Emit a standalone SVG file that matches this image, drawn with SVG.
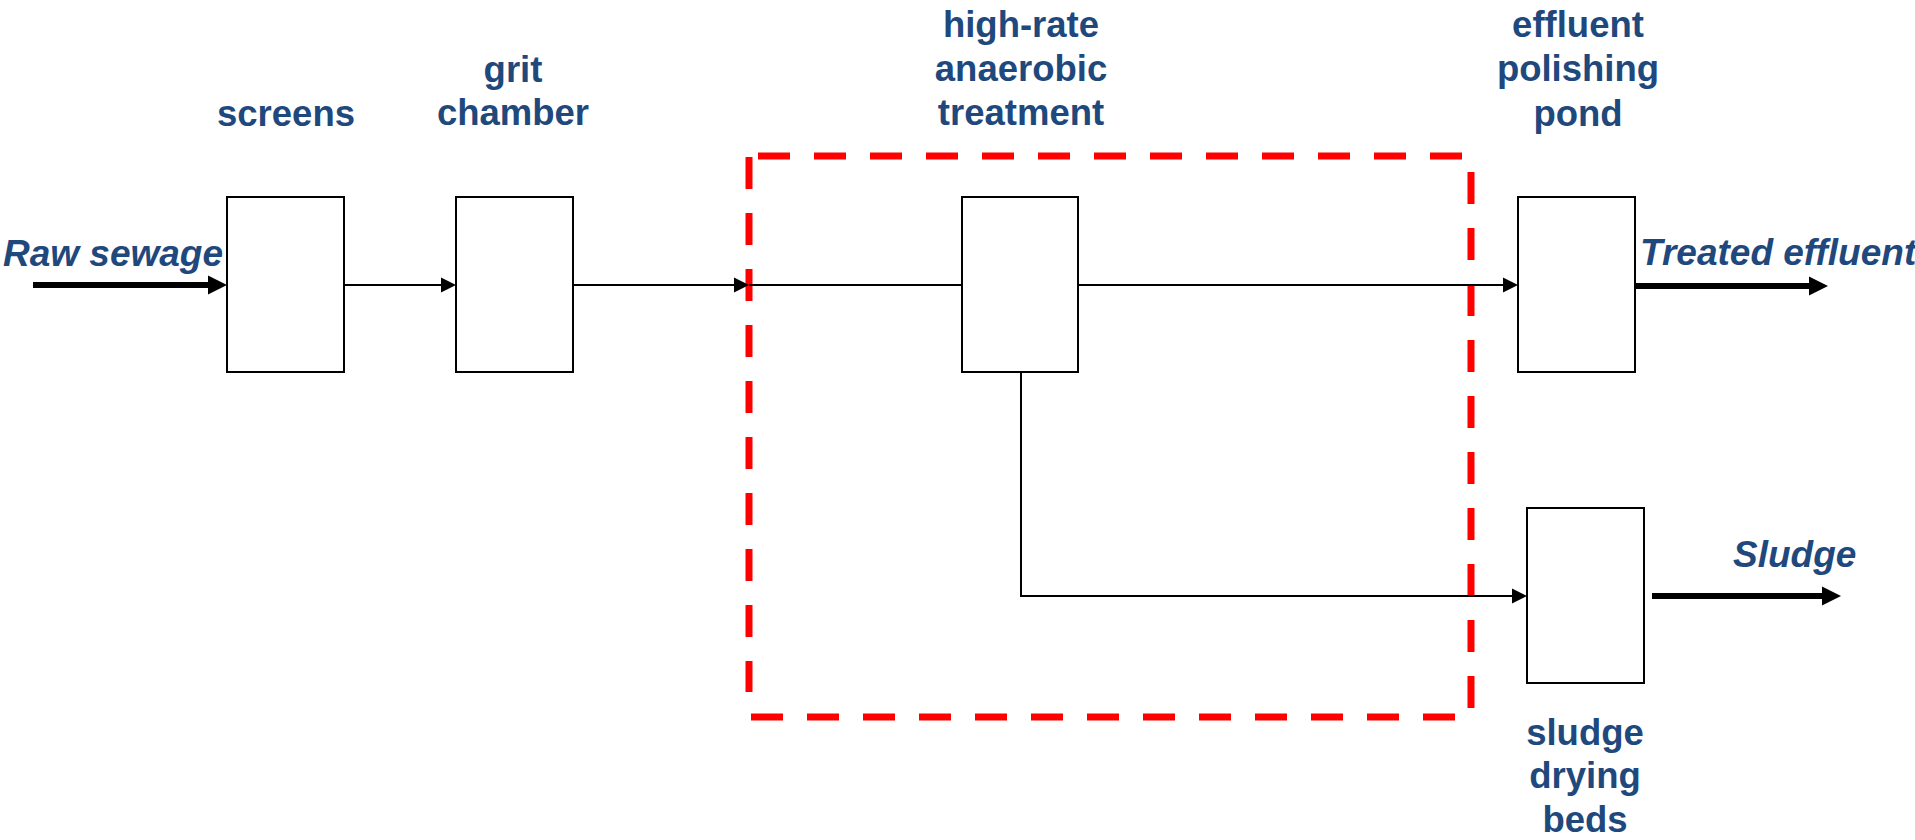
<svg xmlns="http://www.w3.org/2000/svg" width="1915" height="840" viewBox="0 0 1915 840">
<style>
.box{fill:#fff;stroke:#000;stroke-width:2}
.t{font-family:"Liberation Sans",Arial,sans-serif;font-weight:bold;font-size:36.5px;fill:#1F497D;text-anchor:middle}
.it{font-family:"Liberation Sans",Arial,sans-serif;font-weight:bold;font-style:italic;font-size:37px;fill:#1F497D}
.thin{fill:none;stroke:#000;stroke-width:2}
.thick{fill:none;stroke:#000;stroke-width:6}
.dash{fill:none;stroke:#FF0000;stroke-width:7;stroke-dasharray:32 24}
</style>
<defs>
<marker id="ah" markerUnits="userSpaceOnUse" markerWidth="16" markerHeight="16" refX="0" refY="8" orient="auto" viewBox="0 0 16 16" overflow="visible"><path d="M0,0.5 L15,8 L0,15.5 Z" fill="#000"/></marker>
<marker id="ahb" markerUnits="userSpaceOnUse" markerWidth="20" markerHeight="20" refX="0" refY="10" orient="auto" viewBox="0 0 20 20" overflow="visible"><path d="M0,0.5 L19,10 L0,19.5 Z" fill="#000"/></marker>
</defs>
<rect width="1915" height="840" fill="#fff"/>
<g id="boundary">
<line class="dash" x1="758" y1="156" x2="1462" y2="156"/>
<line class="dash" x1="749" y1="157" x2="749" y2="692"/>
<line class="dash" x1="751" y1="717" x2="1455" y2="717"/>
<line class="dash" x1="1471" y1="172" x2="1471" y2="708"/>
</g>
<g id="connectors">
<line class="thick" x1="33" y1="285" x2="208" y2="285" marker-end="url(#ahb)"/>
<line class="thin" x1="344" y1="285" x2="441" y2="285" marker-end="url(#ah)"/>
<line class="thin" x1="573" y1="285" x2="734" y2="285" marker-end="url(#ah)"/>
<line class="thin" x1="749" y1="285" x2="962" y2="285"/>
<line class="thin" x1="1078" y1="285" x2="1503" y2="285" marker-end="url(#ah)"/>
<line class="thick" x1="1635" y1="286" x2="1809" y2="286" marker-end="url(#ahb)"/>
<polyline class="thin" points="1021,372 1021,596 1512,596" marker-end="url(#ah)"/>
<line class="thick" x1="1652" y1="596" x2="1822" y2="596" marker-end="url(#ahb)"/>
</g>
<g id="screens">
<rect class="box" x="227" y="197" width="117" height="175"/>
<text class="t" x="286" y="126">screens</text>
</g>
<g id="grit-chamber">
<rect class="box" x="456" y="197" width="117" height="175"/>
<text class="t" x="513" y="82">grit</text>
<text class="t" x="513" y="125">chamber</text>
</g>
<g id="anaerobic">
<rect class="box" x="962" y="197" width="116" height="175"/>
<text class="t" x="1021" y="37">high-rate</text>
<text class="t" x="1021" y="81">anaerobic</text>
<text class="t" x="1021" y="125">treatment</text>
</g>
<g id="polishing-pond">
<rect class="box" x="1518" y="197" width="117" height="175"/>
<text class="t" x="1578" y="37">effluent</text>
<text class="t" x="1578" y="81">polishing</text>
<text class="t" x="1578" y="126">pond</text>
</g>
<g id="drying-beds">
<rect class="box" x="1527" y="508" width="117" height="175"/>
<text class="t" x="1585" y="745">sludge</text>
<text class="t" x="1585" y="788">drying</text>
<text class="t" x="1585" y="832">beds</text>
</g>
<g id="labels">
<text class="it" x="3" y="266">Raw sewage</text>
<text class="it" x="1640" y="265">Treated effluent</text>
<text class="it" x="1733" y="567">Sludge</text>
</g>
</svg>
